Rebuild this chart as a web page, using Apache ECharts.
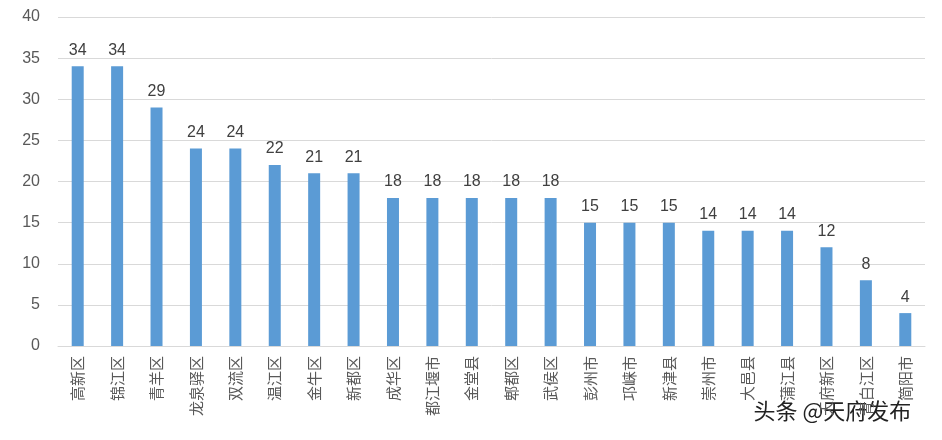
<!DOCTYPE html><html><head><meta charset="utf-8"><script src="https://cdn.jsdelivr.net/npm/echarts@6/dist/echarts.min.js"></script></head><body style="margin:0"><div id="c" style="width:942px;height:440px"></div><script>
const categories=["高新区","锦江区","青羊区","龙泉驿区","双流区","温江区","金牛区","新都区","成华区","都江堰市","金堂县","郫都区","武侯区","彭州市","邛崃市","新津县","崇州市","大邑县","蒲江县","天府新区","青白江区","简阳市"];
const values=[34,34,29,24,24,22,21,21,18,18,18,18,18,15,15,15,14,14,14,12,8,4];
const yTicks={min:0,max:40,interval:5};
const c=echarts.init(document.getElementById('c'));
c.setOption({animation:false,
grid:{left:58,right:17,top:17,bottom:94},
xAxis:{type:'category',data:categories,axisTick:{show:false},axisLine:{lineStyle:{color:'#d9d9d9'}},
axisLabel:{rotate:90,color:'#595959',fontSize:15,fontFamily:'Noto Sans CJK SC',interval:0,margin:10}},
yAxis:{type:'value',min:yTicks.min,max:yTicks.max,interval:yTicks.interval,axisLine:{show:false},axisTick:{show:false},
splitLine:{lineStyle:{color:'#d9d9d9'}},axisLabel:{color:'#595959',fontSize:16,margin:18}},
series:[{type:'bar',data:values,barWidth:12,itemStyle:{color:'#5b9bd5'},
label:{show:true,position:'top',color:'#404040',fontSize:16,distance:8}}],
graphic:[{type:'text',left:752,top:398,style:{text:'头条 @天府发布',fontSize:22,fill:'#222',stroke:'#fff',lineWidth:3,fontFamily:'Noto Sans CJK SC'}}]
});
</script></body></html>
